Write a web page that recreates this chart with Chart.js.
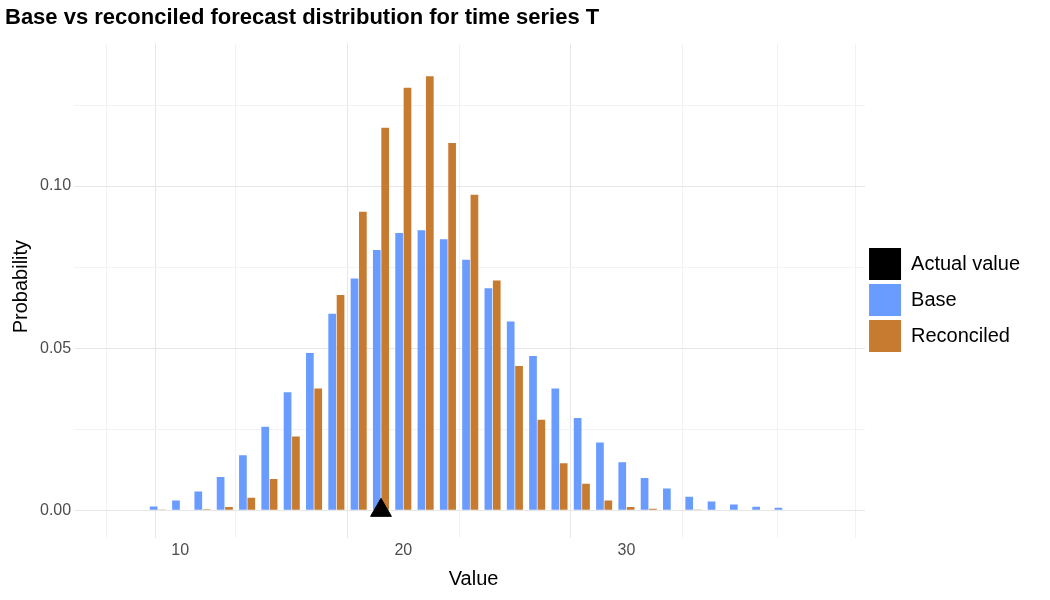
<!DOCTYPE html>
<html><head><script src="https://cdn.jsdelivr.net/npm/chart.js@4"></script>
<style>body{margin:0;background:#fff}</style></head>
<body><canvas id="c" width="1050" height="600"></canvas>
<script>
const values=[9,10,11,12,13,14,15,16,17,18,19,20,21,22,23,24,25,26,27,28,29,30,31,32,33,34,35,36,37];
const baseProb=[0.0012,0.003,0.0058,0.0103,0.017,0.0258,0.0364,0.0485,0.0606,0.0715,0.0803,0.0855,0.0864,0.0836,0.0773,0.0685,0.0582,0.0476,0.0376,0.0285,0.0209,0.0148,0.0100,0.0067,0.0042,0.0027,0.0018,0.0011,0.0008];
const recProb=[0.0001,0.0002,0.0003,0.001,0.0039,0.0097,0.0228,0.0376,0.0664,0.0921,0.118,0.1303,0.1339,0.1133,0.0973,0.0709,0.0445,0.0279,0.0145,0.0082,0.003,0.001,0.0005,0.0002,0.0001,0,0,0,0];
const actualValue=19;
const F='"Liberation Sans", Arial, sans-serif';
const major=v=>v!==undefined&&Math.abs(Math.round(v*20)-v*20)<1e-6;
new Chart(document.getElementById('c'),{
 type:'bar',
 data:{datasets:[
  {type:'scatter',label:'Actual value',data:[{x:actualValue,y:0}],pointStyle:'triangle',radius:12,backgroundColor:'#000',borderColor:'#000',order:0},
  {label:'Base',data:values.map((v,i)=>({x:v,y:baseProb[i]})),backgroundColor:'#6a9bff',categoryPercentage:0.75,barPercentage:0.92,order:1},
  {label:'Reconciled',data:values.map((v,i)=>({x:v,y:recProb[i]})),backgroundColor:'#c77b30',categoryPercentage:0.75,barPercentage:0.92,order:1}
 ]},
 options:{responsive:false,animation:false,
  layout:{padding:{left:5,right:20,top:5,bottom:5}},
  plugins:{
   title:{display:true,text:'Base vs reconciled forecast distribution for time series T',align:'start',color:'#000',font:{family:F,size:22,weight:'bold'},padding:{bottom:12}},
   legend:{position:'right',labels:{boxWidth:32,boxHeight:32,color:'#000',font:{family:F,size:20},padding:4,
    generateLabels(ch){return ch.data.datasets.map((d,i)=>({text:d.label,fillStyle:d.backgroundColor,strokeStyle:'rgba(0,0,0,0)',lineWidth:0,datasetIndex:i}));}}},
   tooltip:{enabled:false}},
  scales:{
   x:{type:'linear',min:7.8,max:38.5,border:{display:false},
    title:{display:true,text:'Value',color:'#000',font:{family:F,size:20}},
    grid:{color:c=>(c.tick&&c.tick.value%10===0)?'#e6e6e6':'#f2f2f2'},
    ticks:{stepSize:5,autoSkip:false,color:'#4d4d4d',font:{family:F,size:16},callback:v=>v%10===0?v:''}},
   y:{min:-0.006,max:0.144,border:{display:false},
    title:{display:true,text:'Probability',color:'#000',font:{family:F,size:20}},
    grid:{color:c=>(c.tick&&major(c.tick.value))?'#e6e6e6':'#f2f2f2'},
    afterBuildTicks(s){s.ticks=[0,0.025,0.05,0.075,0.1,0.125].map(v=>({value:v}));},
    ticks:{color:'#4d4d4d',font:{family:F,size:16},callback:v=>major(v)?v.toFixed(2):''}}
  }}
});
</script></body></html>
